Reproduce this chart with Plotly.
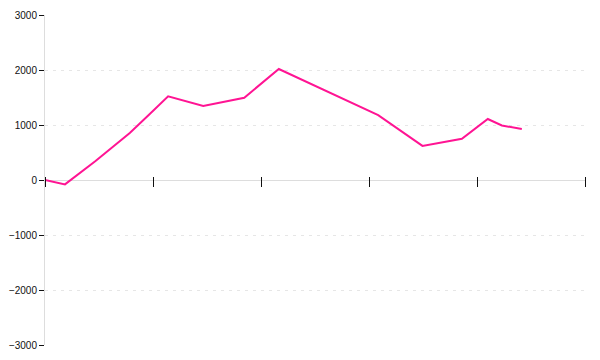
import plotly.graph_objects as go

# data (x in arbitrary units 0..100, y values)
x_vals = [0, 3.7, 9.3, 15.7, 19.4, 22.8, 29.3, 36.9, 43.3, 61.7, 69.9, 77.2, 82.0, 84.6, 88.3]
y_vals = [0, -80, 340, 855, 1200, 1522, 1345, 1496, 2018, 1180, 620, 751, 1109, 991, 927]
y_ticks = [-3000, -2000, -1000, 0, 1000, 2000, 3000]
x_ticks = [0, 20, 40, 60, 80, 100]

fig = go.Figure()
fig.add_trace(go.Scatter(x=x_vals, y=y_vals, mode="lines",
                         line=dict(color="#ff1493", width=2), hoverinfo="skip"))

fig.update_layout(
    template="none",
    width=600, height=360,
    margin=dict(l=45, r=15, t=15, b=15, pad=0),
    paper_bgcolor="white", plot_bgcolor="white",
    showlegend=False,
    font=dict(family="Liberation Sans", size=10, color="#111"),
    xaxis=dict(range=[0, 100], tickvals=x_ticks, showticklabels=False,
               showgrid=False, zeroline=False, showline=False, automargin=False,
               ticks="outside", ticklen=10, tickwidth=1, tickcolor="#111",
               anchor="free", position=0.5 + 4 / 330),
    yaxis=dict(range=[-3000, 3000], tickvals=y_ticks, automargin=False,
               showgrid=True, gridcolor="#e6e6e6", griddash="3px,5px", gridwidth=1,
               zeroline=True, zerolinecolor="#dddddd", zerolinewidth=1,
               showline=True, linecolor="#dddddd", linewidth=1,
               ticks="outside", ticklen=5, tickwidth=1, tickcolor="#111",
               tickfont=dict(family="Liberation Sans", size=10, color="#111")),
)

fig.write_html("out.html")
